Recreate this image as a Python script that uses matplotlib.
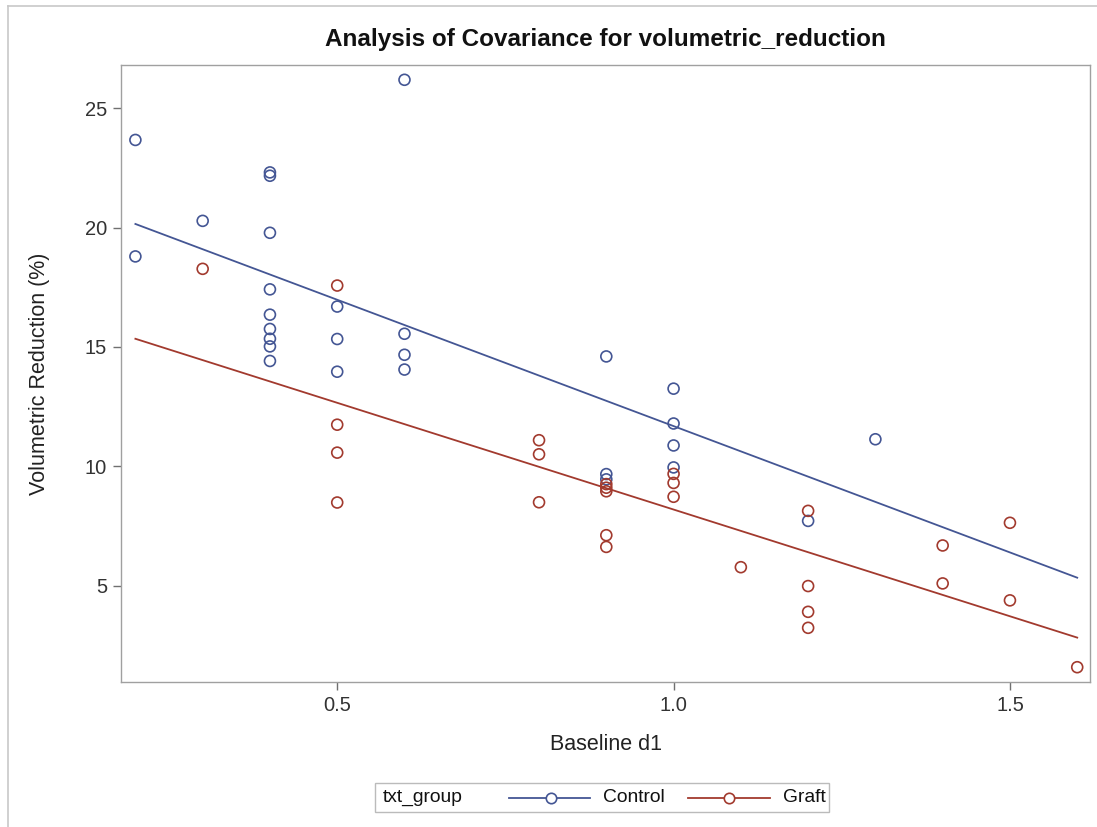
import matplotlib
matplotlib.use("Agg")
import matplotlib.pyplot as plt
from matplotlib.lines import Line2D
from matplotlib.patches import Rectangle

plt.rcParams['font.family'] = ['Liberation Sans', 'DejaVu Sans']

# ---- data ----
control_x = [0.2, 0.2, 0.3, 0.4, 0.4, 0.4, 0.4, 0.4, 0.4, 0.4, 0.4, 0.4,
             0.5, 0.5, 0.5, 0.6, 0.6, 0.6, 0.6,
             0.9, 0.9, 0.9, 1.0, 1.0, 1.0, 1.0, 1.2, 1.3]
control_y = [23.67, 18.79, 20.28, 22.31, 22.17, 19.78, 17.41, 16.35, 15.75, 15.34, 15.02, 14.41,
             16.69, 15.33, 13.96, 26.19, 15.55, 14.67, 14.05,
             14.60, 9.67, 9.45, 13.25, 11.79, 10.87, 9.95, 7.71, 11.13]
graft_x = [0.3, 0.5, 0.5, 0.5, 0.5, 0.8, 0.8, 0.8,
           0.9, 0.9, 0.9, 0.9, 0.9, 1.0, 1.0, 1.0, 1.1,
           1.2, 1.2, 1.2, 1.2, 1.4, 1.4, 1.5, 1.5, 1.6]
graft_y = [18.27, 17.57, 11.74, 10.57, 8.48, 11.09, 10.50, 8.49,
           9.25, 9.10, 8.95, 7.11, 6.62, 9.68, 9.30, 8.72, 5.77,
           8.13, 4.98, 3.90, 3.23, 6.68, 5.09, 7.63, 4.38, 1.58]

# fitted lines
fit_x = [0.2, 1.6]
control_fit = [20.15, 5.33]
graft_fit = [15.34, 2.82]

x_ticks = [0.5, 1.0, 1.5]
x_ticklabels = ["0.5", "1.0", "1.5"]
y_ticks = [5, 10, 15, 20, 25]

BLUE = "#445694"
RED = "#A23A2E"
GRAY = "#A0A0A0"

fig = plt.figure(figsize=(10.97, 8.27), dpi=100)
ax = fig.add_axes([121/1097, 1 - 682/827, (1090 - 121)/1097, (682 - 65)/827])

ax.plot(fit_x, control_fit, color=BLUE, lw=1.3, zorder=2)
ax.plot(fit_x, graft_fit, color=RED, lw=1.3, zorder=2)
ax.scatter(control_x, control_y, s=62, facecolors='none', edgecolors=BLUE, linewidths=1.2, zorder=3)
ax.scatter(graft_x, graft_y, s=62, facecolors='none', edgecolors=RED, linewidths=1.2, zorder=3)

ax.set_xlim(0.1786, 1.619)
ax.set_ylim(0.96, 26.81)
ax.set_xticks(x_ticks)
ax.set_xticklabels(x_ticklabels)
ax.set_yticks(y_ticks)
for s in ax.spines.values():
    s.set_color(GRAY)
    s.set_linewidth(1.0)
ax.tick_params(axis='both', colors='#707070', length=6, width=1, labelsize=14.5,
               labelcolor='#333333', pad=4)

ax.set_xlabel("Baseline d1", fontsize=15.5, color='#222222')
ax.xaxis.set_label_coords(0.5, -(745 - 682) / 617)
ax.xaxis.label.set_va('center')
ax.set_ylabel("Volumetric Reduction (%)", fontsize=15.5, color='#222222')
ax.yaxis.set_label_coords((40 - 121) / 969, 0.5)
ax.yaxis.label.set_va('center')
ax.set_title("Analysis of Covariance for volumetric_reduction", fontsize=17.5,
             fontweight='bold', color='#111111', pad=14)

# outer frame (left and top edges visible)
fig.add_artist(Line2D([8/1097, 8/1097], [0, 1 - 6/827], transform=fig.transFigure, color='#C8C8C8', lw=1.2))
fig.add_artist(Line2D([8/1097, 1], [1 - 6/827, 1 - 6/827], transform=fig.transFigure, color='#C8C8C8', lw=1.2))

# legend drawn manually
def fx(px):
    return px / 1097
def fy(py):
    return 1 - py / 827

fig.add_artist(Rectangle((fx(375), fy(812)), fx(829) - fx(375), fy(783) - fy(812),
                         transform=fig.transFigure, fill=False, edgecolor='#BBBBBB', lw=1.0))
ly = fy(798)
fig.text(fx(383), ly, "txt_group", fontsize=13.9, va='center', ha='left', color='#111111')
fig.add_artist(Line2D([fx(509), fx(590)], [ly, ly], transform=fig.transFigure, color=BLUE, lw=1.3))
fig.add_artist(Line2D([fx(551)], [ly], transform=fig.transFigure, color=BLUE, marker='o',
                      markerfacecolor='white', markeredgecolor=BLUE, markersize=7.5, markeredgewidth=1.2))
fig.text(fx(603), ly, "Control", fontsize=13.9, va='center', ha='left', color='#111111')
fig.add_artist(Line2D([fx(688), fx(770)], [ly, ly], transform=fig.transFigure, color=RED, lw=1.3))
fig.add_artist(Line2D([fx(729)], [ly], transform=fig.transFigure, color=RED, marker='o',
                      markerfacecolor='white', markeredgecolor=RED, markersize=7.5, markeredgewidth=1.2))
fig.text(fx(783), ly, "Graft", fontsize=13.9, va='center', ha='left', color='#111111')

fig.savefig("out.png", dpi=100)
